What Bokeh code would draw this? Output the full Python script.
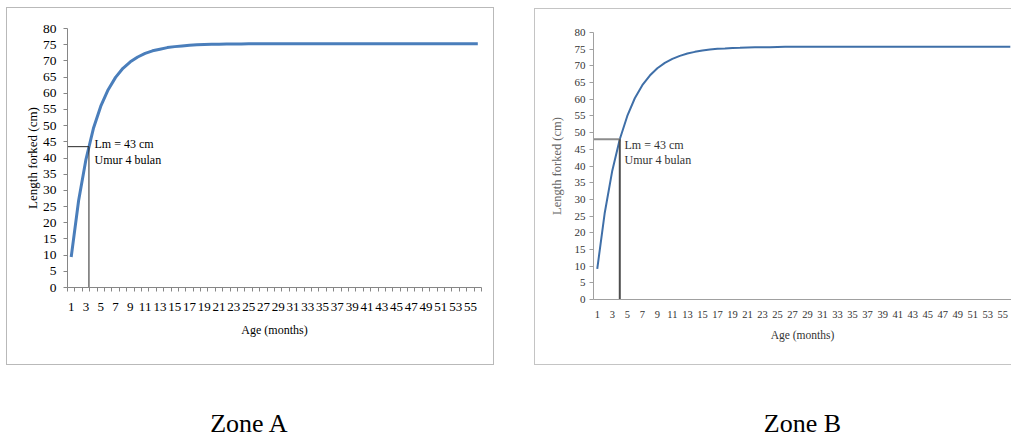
from bokeh.plotting import figure
from bokeh.layouts import row, column
from bokeh.models import Range1d, FixedTicker, Label
from bokeh.core.properties import value
from bokeh.embed import file_html
from bokeh.resources import INLINE

# ---------------- data ----------------
ages = list(range(1, 57))
length_zone_a = [9.4, 26.8, 39.6, 49.1, 56.0, 61.1, 64.9, 67.7, 69.7, 71.2,
                 72.3, 73.1, 73.6, 74.1, 74.4, 74.6, 74.8, 74.95, 75.05, 75.1,
                 75.15, 75.2, 75.2, 75.25, 75.3, 75.3, 75.3, 75.3, 75.3, 75.3,
                 75.3, 75.3, 75.3, 75.3, 75.3, 75.3, 75.3, 75.3, 75.3, 75.3,
                 75.3, 75.3, 75.3, 75.3, 75.3, 75.3, 75.3, 75.3, 75.3, 75.3,
                 75.3, 75.3, 75.3, 75.3, 75.3, 75.3]
length_zone_b = [9.2, 26.0, 38.6, 48.0, 55.0, 60.3, 64.2, 67.1, 69.3, 70.9,
                 72.1, 73.0, 73.7, 74.2, 74.6, 74.9, 75.1, 75.2, 75.35, 75.4,
                 75.5, 75.55, 75.6, 75.6, 75.65, 75.7, 75.7, 75.7, 75.7, 75.7,
                 75.7, 75.7, 75.7, 75.7, 75.7, 75.7, 75.7, 75.7, 75.7, 75.7,
                 75.7, 75.7, 75.7, 75.7, 75.7, 75.7, 75.7, 75.7, 75.7, 75.7,
                 75.7, 75.7, 75.7, 75.7, 75.7, 75.7]
x_tick_values = [1, 3, 5, 7, 9, 11, 13, 15, 17, 19, 21, 23, 25, 27, 29, 31, 33,
                 35, 37, 39, 41, 43, 45, 47, 49, 51, 53, 55]
x_tick_labels = ["1", "3", "5", "7", "9", "11", "13", "15", "17", "19", "21",
                 "23", "25", "27", "29", "31", "33", "35", "37", "39", "41",
                 "43", "45", "47", "49", "51", "53", "55"]
y_ticks = [0, 5, 10, 15, 20, 25, 30, 35, 40, 45, 50, 55, 60, 65, 70, 75, 80]
lm_age_a, lm_len_a = 3.4, 43.5
lm_age_b, lm_len_b = 4.0, 48.0
lm_text = ["Lm = 43 cm", "Umur 4 bulan"]
captions = ["Zone A", "Zone B"]
x_title = "Age (months)"
y_title = "Length forked (cm)"

FONT = "Liberation Serif"
WIN_W, WIN_H = 1011, 438


def style_axes(p, xs):
    xa, ya = p.xaxis[0], p.yaxis[0]
    xa.ticker = FixedTicker(ticks=x_tick_values, minor_ticks=xs["minor"])
    xa.major_label_overrides = {v: s for v, s in zip(x_tick_values, x_tick_labels)}
    xa.major_tick_out = 0
    xa.major_tick_in = 0
    xa.minor_tick_out = xs["minor_out"]
    xa.minor_tick_in = 0
    xa.minor_tick_line_color = xs["axis_color"]
    xa.axis_line_color = xs["axis_color"]
    xa.major_label_text_font = FONT
    xa.major_label_text_font_size = xs["xtick_size"]
    xa.major_label_text_color = xs["text_color"]
    xa.major_label_standoff = xs["xtick_standoff"]
    xa.axis_label = x_title
    xa.axis_label_text_font = FONT
    xa.axis_label_text_font_size = xs["xtitle_size"]
    xa.axis_label_text_font_style = "normal"
    xa.axis_label_text_color = xs["text_color"]
    xa.axis_label_standoff = xs["xtitle_standoff"]

    ya.ticker = FixedTicker(ticks=y_ticks, minor_ticks=[])
    ya.major_tick_out = 4
    ya.major_tick_in = 0
    ya.major_tick_line_color = xs["axis_color"]
    ya.axis_line_color = xs["axis_color"]
    ya.major_label_text_font = FONT
    ya.major_label_text_font_size = xs["ytick_size"]
    ya.major_label_text_color = xs["text_color"]
    ya.major_label_standoff = xs["ytick_standoff"]
    ya.axis_label = y_title
    ya.axis_label_text_font = FONT
    ya.axis_label_text_font_size = xs["ytitle_size"]
    ya.axis_label_text_font_style = "normal"
    ya.axis_label_text_color = xs["ytitle_color"]
    ya.axis_label_standoff = xs["ytitle_standoff"]


def chart_figure(box, frame, x_end, box_css, y_top=80):
    # box: (left, top, right, bottom) of the chart box on the page
    # frame: (left, top, right, bottom) of the plot area on the page
    bl, bt, br, bb = box
    fl, ft, fr, fb = frame
    p = figure(width=br - bl, height=bb - bt, output_backend="svg",
               toolbar_location=None, tools="",
               x_range=Range1d(0.5, x_end), y_range=Range1d(0, y_top),
               min_border_left=fl - bl, min_border_top=ft - bt,
               min_border_right=br - fr, min_border_bottom=bb - fb)
    p.outline_line_color = None
    p.grid.visible = False
    p.background_fill_color = None
    p.border_fill_color = None
    p.styles = box_css
    return p


def caption_figure(x0, x1, fl, fr, top):
    w = x1 - x0
    h = WIN_H - top
    c = figure(width=w, height=h, output_backend="svg", toolbar_location=None,
               tools="", x_axis_type=None, y_axis_type=None,
               x_range=Range1d(fl, fr), y_range=Range1d(0, h),
               min_border_left=fl - x0, min_border_right=x1 - fr,
               min_border_top=0, min_border_bottom=0)
    c.outline_line_color = None
    c.grid.visible = False
    c.background_fill_color = None
    c.border_fill_color = None
    return c


# ---------------- Zone A ----------------
A_BOX = (6, 7, 494, 365)
A_FRAME = (67, 28, 481, 287)
pa = chart_figure(A_BOX, A_FRAME, 56.5,
                  {"outline": "1px solid #b9b9b9", "outline-offset": "-1px"})
pa.margin = (A_BOX[1], 505 - A_BOX[2], 0, A_BOX[0])
sxa = (A_FRAME[2] - A_FRAME[0]) / 56.0
sya = (A_FRAME[3] - A_FRAME[1]) / 80.0


def ax(px):
    return 0.5 + (px - A_FRAME[0]) / sxa


def ay(py):
    return (A_FRAME[3] - py) / sya


pa.line(ages, length_zone_a, line_color="#4a7ebb", line_width=3)
pa.segment(x0=[0.5, lm_age_a], y0=[lm_len_a, lm_len_a],
           x1=[lm_age_a, lm_age_a], y1=[lm_len_a, 0],
           line_color="#262626", line_width=1)
style_axes(pa, dict(minor=[a - 0.5 for a in ages] + [56.5], minor_out=4,
                    axis_color="#868686", text_color="black",
                    xtick_size="13px", xtick_standoff=11,
                    xtitle_size="12px", xtitle_standoff=9,
                    ytick_size="13.5px", ytick_standoff=7,
                    ytitle_size="13px", ytitle_color="black",
                    ytitle_standoff=0))
for txt, base in zip(lm_text, [143, 159]):
    pa.add_layout(Label(x=ax(94), y=ay(base), text=txt, text_font=FONT,
                        text_font_size="12px", text_color="black",
                        text_baseline="alphabetic"))

CAPTION_BASE = 423
cap_a = caption_figure(A_BOX[0], A_BOX[2], A_FRAME[0], A_FRAME[2], A_BOX[3])
cap_a.margin = (0, 505 - A_BOX[2], 0, A_BOX[0])
cap_a.text(x=[249], y=[WIN_H - CAPTION_BASE], text=[captions[0]],
           text_font=value(FONT), text_font_size="26px", text_color="black",
           text_align="center", text_baseline="alphabetic")

# ---------------- Zone B ----------------
B_BOX = (534, 8, WIN_W, 365)
B_FRAME = (593, 32, WIN_W, 299)
sxb = 7.51
b_end = 0.5 + (B_FRAME[2] - B_FRAME[0]) / sxb
pb = chart_figure(B_BOX, B_FRAME, b_end,
                  {"box-shadow": "inset 1px 1px 0 0 #c4c4c4, inset 0 -1px 0 0 #c4c4c4"})
pb.margin = (B_BOX[1], 0, 0, B_BOX[0] - 505)
syb = (B_FRAME[3] - B_FRAME[1]) / 80.0


def bx(px):
    return 0.5 + (px - B_FRAME[0]) / sxb


def by(py):
    return (B_FRAME[3] - py) / syb


pb.line(ages, length_zone_b, line_color="#3f6fa8", line_width=2)
pb.segment(x0=[0.5], y0=[lm_len_b], x1=[lm_age_b], y1=[lm_len_b],
           line_color="#8c8c8c", line_width=2)
pb.segment(x0=[lm_age_b], y0=[lm_len_b], x1=[lm_age_b], y1=[0],
           line_color="#4d4d4d", line_width=2)
style_axes(pb, dict(minor=[], minor_out=0,
                    axis_color="#a0a0a0", text_color="#333333",
                    xtick_size="10.5px", xtick_standoff=11,
                    xtitle_size="11.5px", xtitle_standoff=8,
                    ytick_size="11px", ytick_standoff=4,
                    ytitle_size="12.5px", ytitle_color="#666666",
                    ytitle_standoff=8))
for txt, base in zip(lm_text, [144, 159]):
    pb.add_layout(Label(x=bx(624), y=by(base), text=txt, text_font=FONT,
                        text_font_size="12px", text_color="#333333",
                        text_baseline="alphabetic"))

cap_b = caption_figure(B_BOX[0], B_BOX[2], B_FRAME[0], B_FRAME[2], B_BOX[3])
cap_b.margin = (0, 0, 0, B_BOX[0] - 505)
cap_b.text(x=[802], y=[WIN_H - CAPTION_BASE], text=[captions[1]],
           text_font=value(FONT), text_font_size="26px", text_color="black",
           text_align="center", text_baseline="alphabetic")

layout = row(column(pa, cap_a), column(pb, cap_b))
open("out.html", "w").write(file_html(layout, INLINE))
